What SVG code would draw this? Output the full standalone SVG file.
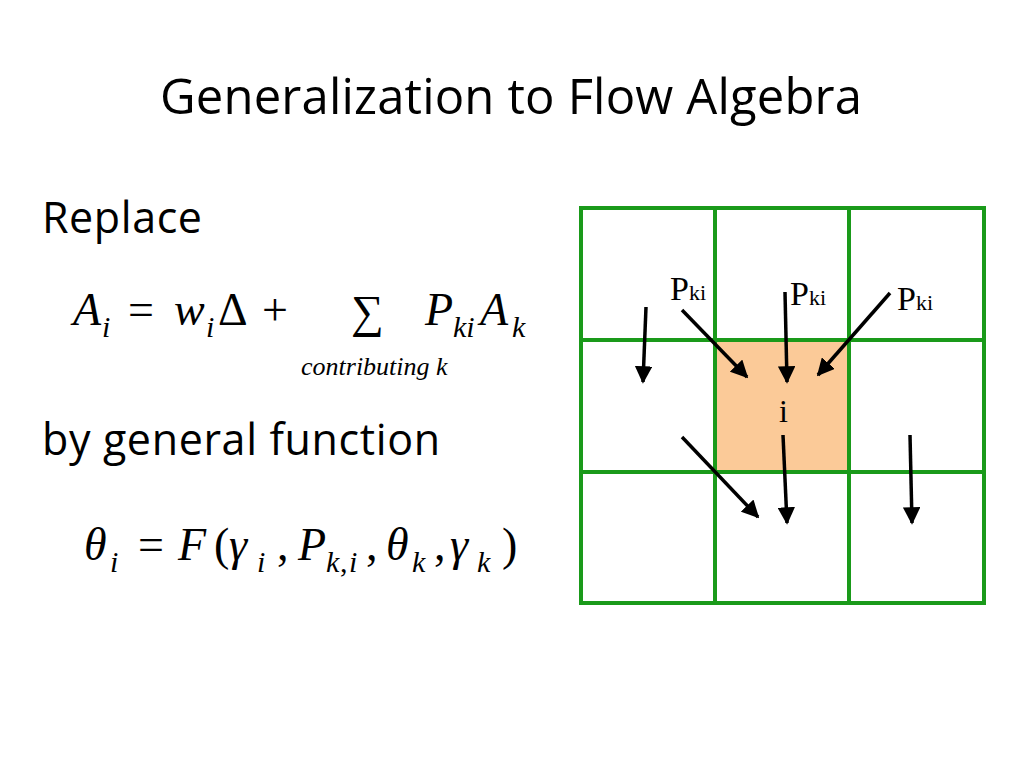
<svg xmlns="http://www.w3.org/2000/svg" width="1024" height="768" viewBox="0 0 1024 768">
<defs>
<marker id="ah" viewBox="0 0 10 10" refX="9" refY="5" markerWidth="5" markerHeight="5" orient="auto" markerUnits="strokeWidth"><path d="M0,0 L10,5 L0,10 z" fill="#000"/></marker>
<style>
.t{font-family:"Open Sans","Liberation Sans",sans-serif;fill:#000}
.m{font-family:"Liberation Serif",serif;font-style:italic;fill:#000;font-size:46px}
.s{font-family:"Liberation Serif",serif;font-style:italic;fill:#000;font-size:30px}
.r{font-family:"Liberation Serif",serif;fill:#000;font-size:46px}
.g{fill:none;stroke:#1a9a1a;stroke-width:4}
.a{stroke:#000;stroke-width:3.5;marker-end:url(#ah)}
</style>
</defs>
<rect width="1024" height="768" fill="#fff"/>
<text class="t" x="511" y="114" font-size="49" text-anchor="middle" textLength="702">Generalization to Flow Algebra</text>
<text class="t" x="42" y="233" font-size="43" textLength="160">Replace</text>
<text class="t" x="42" y="455" font-size="43" textLength="398">by general function</text>
<g id="formula1">
<text class="m" x="73" y="325">A</text><text class="s" x="102" y="337">i</text>
<text class="r" x="128" y="325">=</text>
<text class="m" x="174" y="325">w</text><text class="s" x="206" y="337">i</text>
<text class="r" x="218" y="325">Δ</text>
<text class="r" x="262" y="325">+</text>
<text class="r" x="351" y="327" font-size="152">∑</text>
<text class="m" x="425" y="325">P</text><text class="s" x="453" y="337">ki</text>
<text class="m" x="480" y="325">A</text><text class="s" x="512" y="337">k</text>
<text class="m" x="301" y="375" style="font-size:26px">contributing k</text>
</g>
<g id="formula2">
<text class="m" x="84" y="560">θ</text><text class="s" x="110" y="572">i</text>
<text class="r" x="138" y="560">=</text>
<text class="m" x="178" y="560">F</text>
<text class="r" x="214" y="560">(</text>
<text class="m" x="229" y="560">γ</text><text class="s" x="257" y="572">i</text>
<text class="r" x="277" y="560">,</text>
<text class="m" x="298" y="560">P</text><text class="s" x="326" y="572">k</text><text class="r" x="340" y="572" style="font-size:30px">,</text><text class="s" x="349" y="572">i</text>
<text class="r" x="366" y="560">,</text>
<text class="m" x="386" y="560">θ</text><text class="s" x="412" y="572">k</text>
<text class="r" x="434" y="560">,</text>
<text class="m" x="450" y="560">γ</text><text class="s" x="477" y="572">k</text>
<text class="r" x="502" y="560">)</text>
</g>
<g id="grid">
<rect x="715" y="340" width="134" height="132" fill="#fbca98"/>
<rect class="g" x="581" y="208" width="403" height="395"/>
<line class="g" x1="715" y1="208" x2="715" y2="603"/>
<line class="g" x1="849" y1="208" x2="849" y2="603"/>
<line class="g" x1="581" y1="340" x2="984" y2="340"/>
<line class="g" x1="581" y1="472" x2="984" y2="472"/>
</g>
<g id="labels" font-family="Liberation Serif, serif">
<text x="670" y="300" font-size="34">P<tspan font-size="22">ki</tspan></text>
<text x="790" y="305" font-size="34">P<tspan font-size="22">ki</tspan></text>
<text x="897" y="310" font-size="34">P<tspan font-size="22">ki</tspan></text>
<text x="779" y="422" font-size="32">i</text>
</g>
<g id="connectors">
<line class="a" x1="646" y1="307" x2="643" y2="382"/>
<line class="a" x1="682" y1="310" x2="747" y2="377"/>
<line class="a" x1="785" y1="292" x2="787" y2="382"/>
<line class="a" x1="890" y1="293" x2="818" y2="375"/>
<line class="a" x1="682" y1="437" x2="758" y2="517"/>
<line class="a" x1="783" y1="435" x2="787" y2="523"/>
<line class="a" x1="910" y1="435" x2="912" y2="523"/>
</g>
</svg>
